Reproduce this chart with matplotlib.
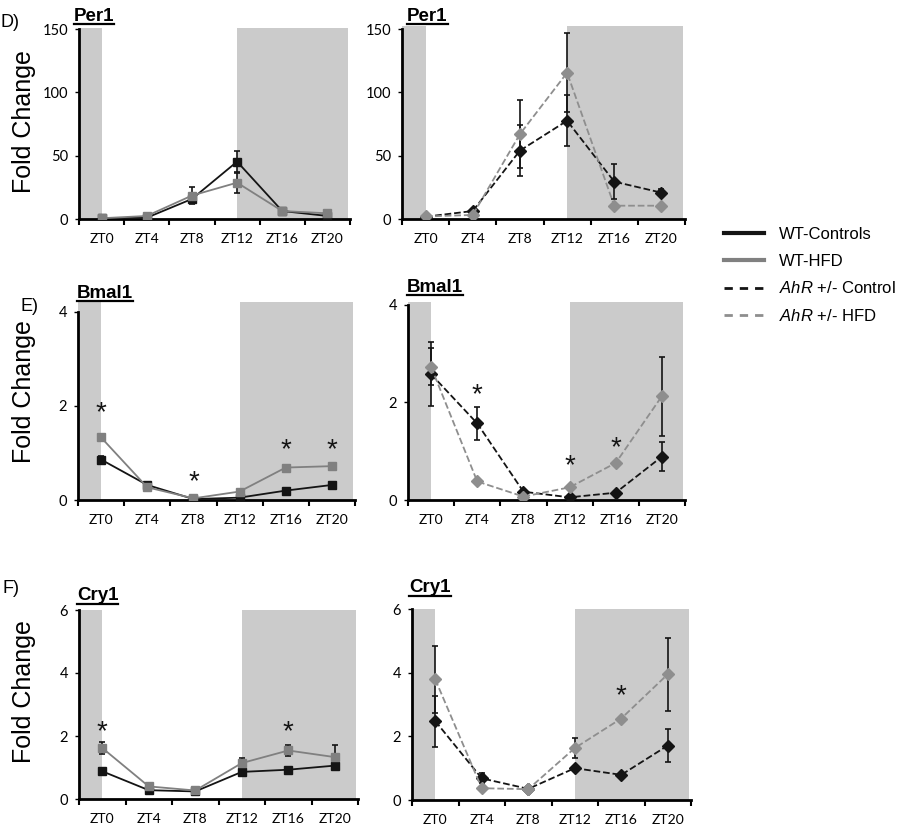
import matplotlib.pyplot as plt
from matplotlib.lines import Line2D
import numpy as np

plt.rcParams['font.family'] = ['Liberation Sans', 'DejaVu Sans']
plt.rcParams['mathtext.fontset'] = 'custom'
plt.rcParams['mathtext.rm'] = 'Liberation Sans'
plt.rcParams['mathtext.it'] = 'Liberation Sans:italic'

zt = ['ZT0', 'ZT4', 'ZT8', 'ZT12', 'ZT16', 'ZT20']

# Per1
per1_wt_ctrl = [0.5, 1.0, 15.8, 45.3, 6.3, 2.4]
per1_wt_ctrl_err = [0.3, 0.5, 3.4, 8.5, 1.0, 0.5]
per1_wt_hfd = [0.6, 2.4, 18.5, 28.7, 6.3, 4.5]
per1_wt_hfd_err = [0.3, 0.8, 7.0, 8.0, 1.0, 1.0]
per1_ahr_ctrl = [1.8, 6.3, 54.0, 77.6, 29.5, 20.8]
per1_ahr_ctrl_err = [0.5, 1.5, 20.0, 20.0, 14.0, 3.0]
per1_ahr_hfd = [2.0, 3.2, 67.0, 115.5, 10.5, 10.5]
per1_ahr_hfd_err = [0.5, 1.0, 27.0, 31.0, 1.5, 1.5]

# Bmal1
bmal1_wt_ctrl = [0.86, 0.32, 0.02, 0.05, 0.20, 0.32]
bmal1_wt_ctrl_err = [0.07, 0.05, 0.01, 0.01, 0.02, 0.03]
bmal1_wt_hfd = [1.33, 0.27, 0.035, 0.18, 0.69, 0.72]
bmal1_wt_hfd_err = [0.04, 0.05, 0.01, 0.02, 0.05, 0.04]
bmal1_ahr_ctrl = [2.58, 1.57, 0.17, 0.055, 0.15, 0.89]
bmal1_ahr_ctrl_err = [0.66, 0.33, 0.03, 0.02, 0.02, 0.29]
bmal1_ahr_hfd = [2.73, 0.38, 0.07, 0.26, 0.76, 2.13]
bmal1_ahr_hfd_err = [0.38, 0.06, 0.02, 0.03, 0.04, 0.81]

# Cry1
cry1_wt_ctrl = [0.88, 0.28, 0.24, 0.86, 0.93, 1.06]
cry1_wt_ctrl_err = [0.05, 0.04, 0.03, 0.06, 0.05, 0.06]
cry1_wt_hfd = [1.62, 0.40, 0.27, 1.14, 1.54, 1.33]
cry1_wt_hfd_err = [0.18, 0.05, 0.04, 0.15, 0.17, 0.37]
cry1_ahr_ctrl = [2.48, 0.68, 0.35, 1.00, 0.79, 1.71]
cry1_ahr_ctrl_err = [0.80, 0.16, 0.04, 0.08, 0.04, 0.52]
cry1_ahr_hfd = [3.79, 0.37, 0.34, 1.63, 2.56, 3.95]
cry1_ahr_hfd_err = [1.05, 0.05, 0.04, 0.32, 0.06, 1.14]

# significance stars (category index, height)
bmal1_wt_star_idx = [0, 2, 4, 5]
bmal1_wt_star_y = [1.84, 0.37, 1.06, 1.06]
bmal1_ahr_star_idx = [1, 3, 4]
bmal1_ahr_star_y = [2.14, 0.70, 1.07]
cry1_wt_star_idx = [0, 4]
cry1_wt_star_y = [2.12, 2.12]
cry1_ahr_star_idx = [4]
cry1_ahr_star_y = [3.26]

legend_labels = ['WT-Controls', 'WT-HFD', r'$\mathit{AhR}$ +/- Control', r'$\mathit{AhR}$ +/- HFD']

W, H = 900, 830
BLACK = '#141414'
GRAY = '#808080'
LGRAY = '#8e8e8e'
SHADE = '#cbcbcb'

fig = plt.figure(figsize=(W / 100, H / 100), dpi=100)


def make_axes(l, r, top, bottom, ymax, ytop_tick, yticks):
    ax = fig.add_axes([l / W, 1 - bottom / H, (r - l) / W, (bottom - top) / H])
    ax.set_xlim(-0.5, 5.5)
    ax.set_ylim(0, ymax)
    ax.axvspan(-0.5, 0, color=SHADE, lw=0, zorder=0)
    ax.axvspan(3, 5.45, color=SHADE, lw=0, zorder=0)
    for s in ['top', 'right']:
        ax.spines[s].set_visible(False)
    for s in ['left', 'bottom']:
        ax.spines[s].set_linewidth(2)
        ax.spines[s].set_color('black')
    ax.spines['left'].set_bounds(0, ytop_tick)
    ax.set_xticks(np.arange(-0.5, 6, 1))
    ax.set_xticklabels([])
    ax.set_xticks(range(6), minor=True)
    ax.set_xticklabels(zt, minor=True, fontsize=10, family='Lato')
    ax.tick_params(axis='x', which='major', direction='out', length=4, width=1.5)
    ax.tick_params(axis='x', which='minor', length=0, pad=10)
    ax.set_yticks(yticks)
    ax.set_yticklabels([str(v) for v in yticks], fontsize=10.5, family='Lato')
    ax.tick_params(axis='y', direction='out', length=3, width=1, pad=5)
    return ax


def plot_series(ax, y, err, color, ls, marker, ms=5.5):
    ax.errorbar(range(6), y, yerr=err, color=color, ls=ls, lw=1.3,
                marker=marker, ms=ms, mec=color, mfc=color,
                ecolor=BLACK, elinewidth=1.2, capsize=2.5, capthick=1.2, zorder=3)


def stars(ax, idx, ys):
    for i, y in zip(idx, ys):
        ax.text(i, y, '*', ha='center', va='center', fontsize=20, color=BLACK)


# D) Per1
ax = make_axes(79, 350, 28, 219, 150.8, 150, [0, 50, 100, 150])
plot_series(ax, per1_wt_ctrl, per1_wt_ctrl_err, BLACK, '-', 's')
plot_series(ax, per1_wt_hfd, per1_wt_hfd_err, GRAY, '-', 's')
ax = make_axes(402, 685, 26, 219, 152.4, 150, [0, 50, 100, 150])
plot_series(ax, per1_ahr_ctrl, per1_ahr_ctrl_err, BLACK, '--', 'D', 6)
plot_series(ax, per1_ahr_hfd, per1_ahr_hfd_err, LGRAY, '--', 'D', 6)

# E) Bmal1
ax = make_axes(78, 355, 302, 500, 4.21, 4, [0, 2, 4])
plot_series(ax, bmal1_wt_ctrl, bmal1_wt_ctrl_err, BLACK, '-', 's')
plot_series(ax, bmal1_wt_hfd, bmal1_wt_hfd_err, GRAY, '-', 's')
stars(ax, bmal1_wt_star_idx, bmal1_wt_star_y)
ax = make_axes(408, 685, 302, 500, 4.06, 4, [0, 2, 4])
plot_series(ax, bmal1_ahr_ctrl, bmal1_ahr_ctrl_err, BLACK, '--', 'D', 6)
plot_series(ax, bmal1_ahr_hfd, bmal1_ahr_hfd_err, LGRAY, '--', 'D', 6)
stars(ax, bmal1_ahr_star_idx, bmal1_ahr_star_y)

# F) Cry1
ax = make_axes(79, 358, 610, 799, 6.0, 6, [0, 2, 4, 6])
plot_series(ax, cry1_wt_ctrl, cry1_wt_ctrl_err, BLACK, '-', 's')
plot_series(ax, cry1_wt_hfd, cry1_wt_hfd_err, GRAY, '-', 's')
stars(ax, cry1_wt_star_idx, cry1_wt_star_y)
ax = make_axes(412, 691, 609, 800, 6.0, 6, [0, 2, 4, 6])
plot_series(ax, cry1_ahr_ctrl, cry1_ahr_ctrl_err, BLACK, '--', 'D', 6)
plot_series(ax, cry1_ahr_hfd, cry1_ahr_hfd_err, LGRAY, '--', 'D', 6)
stars(ax, cry1_ahr_star_idx, cry1_ahr_star_y)

# panel letters, y labels, underlined gene titles
for txt, x, y in [('D)', 1, 27), ('E)', 20, 311), ('F)', 2, 593)]:
    fig.text(x / W, 1 - y / H, txt, fontsize=13, va='baseline', ha='left')
for y in [122, 392, 692]:
    fig.text(24 / W, 1 - y / H, 'Fold Change', fontsize=18, rotation=90,
             ha='center', va='center')

titles = []
for txt, x, y in [('Per1', 74, 21), ('Per1', 407, 21), ('Bmal1', 77, 298),
                  ('Bmal1', 407, 292), ('Cry1', 77, 600), ('Cry1', 409, 592)]:
    t = fig.text(x / W, 1 - y / H, txt, fontsize=13.5, fontweight='bold',
                 va='baseline', ha='left')
    titles.append((t, y))

fig.canvas.draw()
r = fig.canvas.get_renderer()
for t, y in titles:
    bb = t.get_window_extent(r)
    uy = 1 - (y + 3.5) / H
    fig.add_artist(Line2D([bb.x0 / W, bb.x1 / W], [uy, uy], color='black', lw=1.6))

# legend
handles = [Line2D([], [], color=BLACK, lw=3),
           Line2D([], [], color=GRAY, lw=3),
           Line2D([], [], color=BLACK, lw=2, ls=(0, (3, 2.5))),
           Line2D([], [], color=LGRAY, lw=2, ls=(0, (3, 2.5)))]
fig.legend(handles, legend_labels, loc='upper left', bbox_to_anchor=(709 / W, 1 - 212 / H),
           frameon=False, fontsize=12, handlelength=2.4, labelspacing=0.7,
           handletextpad=0.9)

fig.savefig('out.png', dpi=100)
